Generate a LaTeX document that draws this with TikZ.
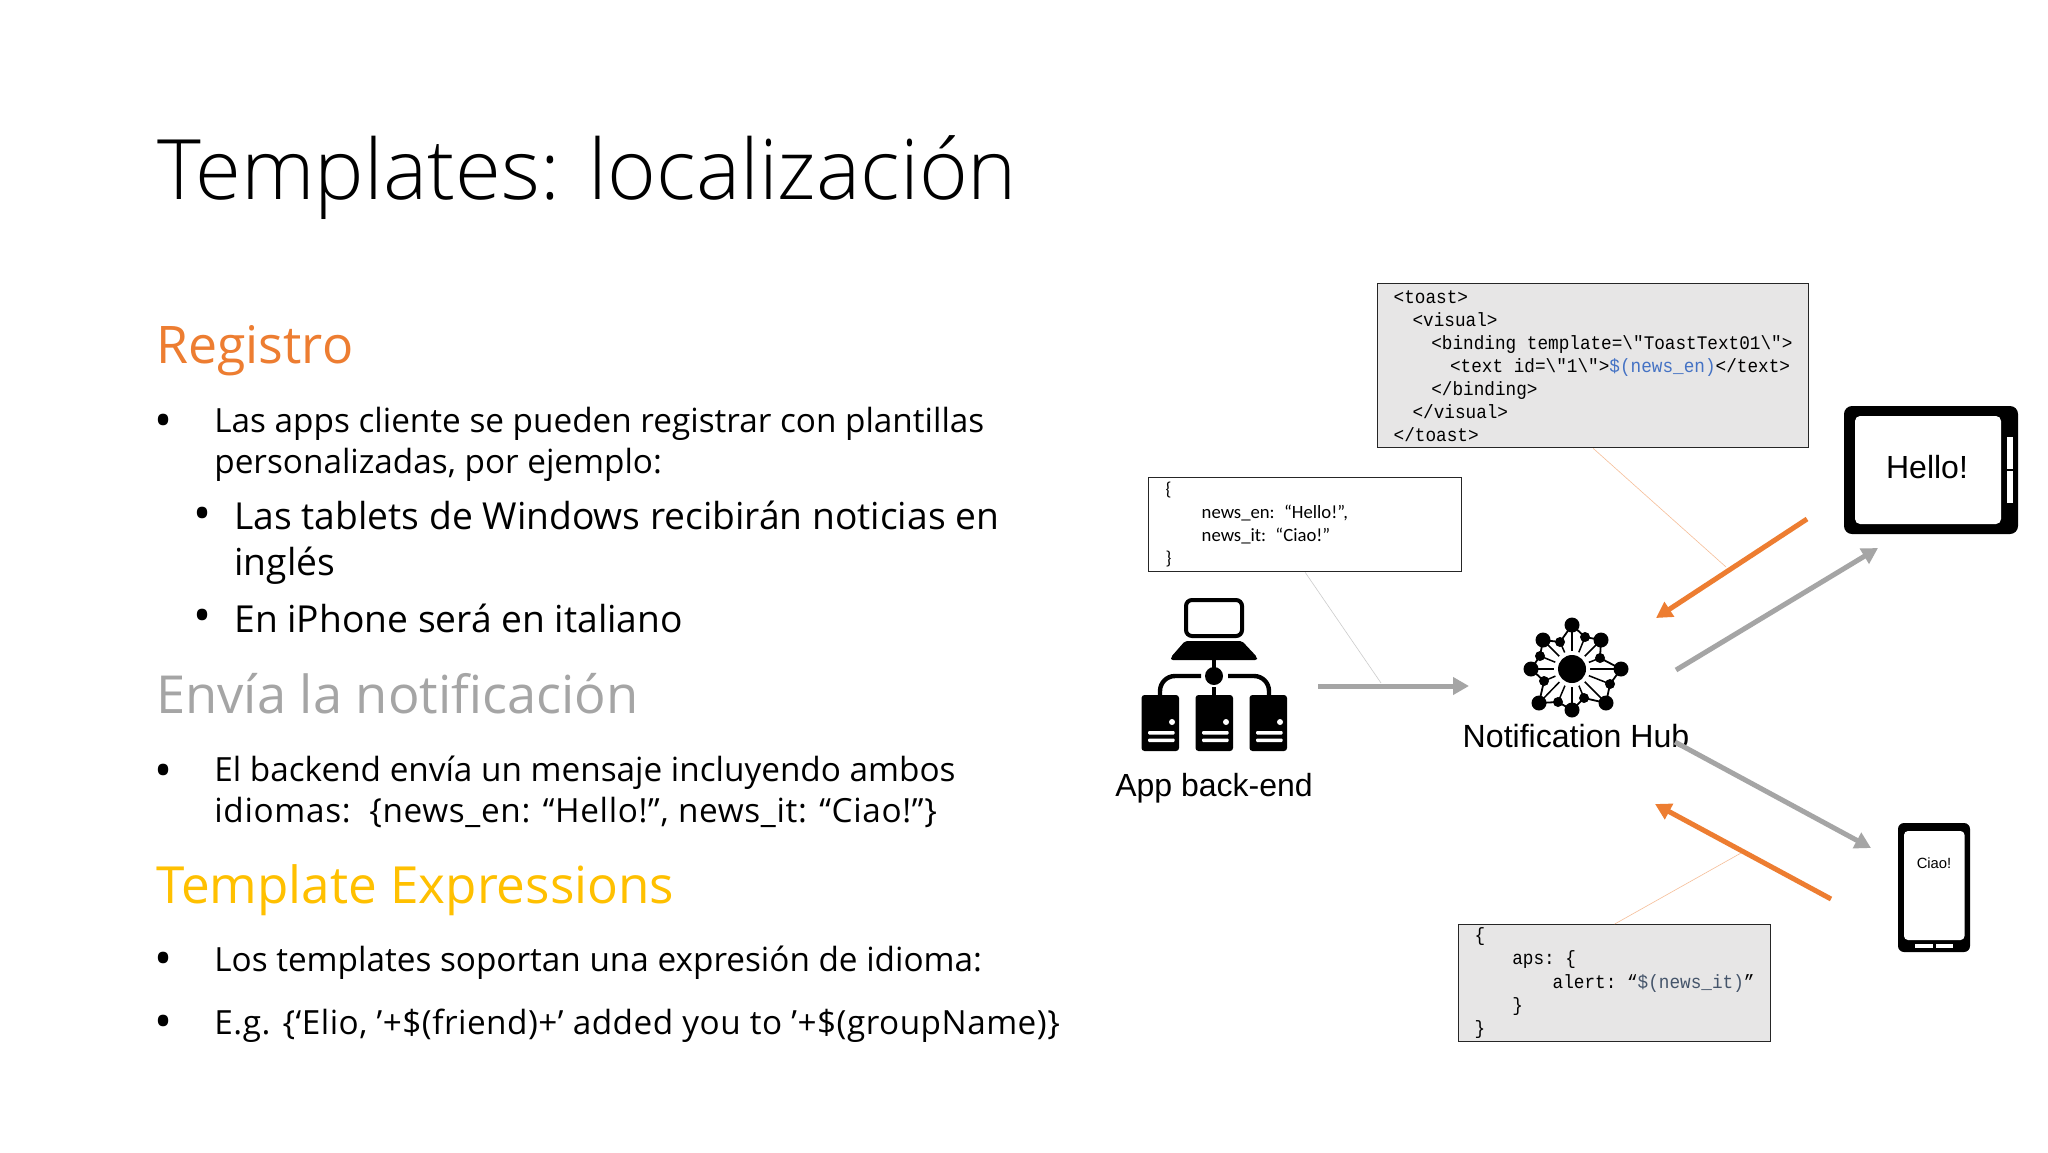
\documentclass[tikz,border=0pt]{standalone}
\usepackage{fontspec}
\usetikzlibrary{arrows.meta}
\setmainfont{Open Sans}
\setmonofont[FakeStretch=0.922]{Liberation Mono}
\newfontfamily\lightfont{Open Sans Light}
\newfontfamily\armfont{Liberation Sans}
\newfontfamily\calfont{Carlito}
\definecolor{orangeA}{HTML}{ED7D31}
\definecolor{grayA}{HTML}{A5A5A5}
\definecolor{yellowA}{HTML}{FFC000}
\definecolor{panel}{HTML}{E7E6E6}
\definecolor{blueA}{HTML}{4472C4}
\definecolor{slateA}{HTML}{44546A}
\newcommand{\fs}[1]{\fontsize{#1}{#1}\selectfont}
\newcommand{\msp}{\hspace{5.31pt}}
\tikzset{
  txt/.style={inner sep=0pt,anchor=base west,text=black},
  ttl/.style={txt,font=\lightfont\fs{41.7}},
  hd/.style={txt,font=\fs{25.9}},
  bd/.style={txt,font=\fs{16.65}},
  sb/.style={txt,font=\fs{18.6}},
  bul/.style={inner sep=0pt,anchor=center,font=\fs{24}},
  codebox/.style={draw=black!85,line width=0.7pt,inner ysep=0.5pt,align=left,anchor=north west},
  thick arrow/.style={line width=2.5pt,-{Triangle[length=8pt,width=8.5pt]}},
  grayarrow/.style={thick arrow,draw=grayA},
  orangearrow/.style={thick arrow,draw=orangeA},
  callout/.style={line width=0.3pt},
  spoke/.style={line width=0.75pt,draw=black},
  lab/.style={font=\armfont\fs{16},inner sep=0pt,anchor=base},
}
\begin{document}
\begin{tikzpicture}[x=0.5pt,y=-0.5pt]
\useasboundingbox (0,0) rectangle (2048,1152);
\fill[white] (0,0) rectangle (2048,1152);

% left text
\node[ttl] (title) at (157,199) {Templates: localización};
\node[hd,text=orangeA] (h1) at (156,363) {Registro};
\node[bul] (b1) at (164,426) {•};
\node[bd] (l1) at (214,432) {Las apps cliente se pueden registrar con plantillas};
\node[bd] (l2) at (214,473) {personalizadas, por ejemplo:};
\node[bul] (b2) at (203,519) {•};
\node[sb] (l3) at (234,529) {Las tablets de Windows recibirán noticias en};
\node[sb] (l4) at (234,575) {inglés};
\node[bul] (b3) at (203,621) {•};
\node[sb] (l5) at (234,632) {En iPhone será en italiano};
\node[hd,text=grayA,font=\fs{26.2}] (h2) at (156,713) {Envía la notificación};
\node[bul] (b4) at (164,776) {•};
\node[bd] (l6) at (214,781) {El backend envía un mensaje incluyendo ambos};
\node[bd,font=\fs{16.65}\addfontfeature{LetterSpace=2}] (l7) at (214,822) {idiomas:\ \ \{news\_en: “Hello!”, news\_it: “Ciao!”\}};
\node[hd,text=yellowA,font=\fs{25.6}] (h3) at (156,903) {Template Expressions};
\node[bul] (b5) at (164,964) {•};
\node[bd] (l8) at (214,971) {Los templates soportan una expresión de idioma:};
\node[bul] (b6) at (164,1027) {•};
\node[bd,font=\fs{16.65}\addfontfeature{LetterSpace=1.5}] (l9) at (214,1034) {E.g. \{‘Elio, ’+\$(friend)+’ added you to ’+\$(groupName)\}};

% code boxes
\node[codebox,fill=panel,text width=199.5pt,minimum height=82pt,inner xsep=8pt,font=\ttfamily\fontsize{9.6}{11.5}\selectfont] (toast) at (1377,283)
{<toast>\\
\hspace*{9.4pt}<visual>\\
\hspace*{18.8pt}\mbox{<binding\msp template=\textbackslash"ToastText01\textbackslash">}\\
\hspace*{28.2pt}\mbox{<text\msp id=\textbackslash"1\textbackslash">\textcolor{blueA}{\$(news\_en)}</text>}\\
\hspace*{18.8pt}</binding>\\
\hspace*{9.4pt}</visual>\\
</toast>};

\node[codebox,fill=white,text width=139.5pt,minimum height=47pt,inner xsep=8.5pt,inner ysep=1pt,font=\calfont\fontsize{9.35}{11.5}\selectfont] (payload) at (1148,477)
{\{\\
\hspace*{18pt}news\_en: “Hello!”,\\
\hspace*{18pt}news\_it: “Ciao!”\\
\}};

\node[codebox,fill=panel,text width=140pt,minimum height=58.5pt,inner xsep=8pt,inner ysep=0.5pt,font=\ttfamily\fontsize{9.6}{11.6}\selectfont] (aps) at (1458,924)
{\{\\
\hspace*{18.8pt}aps:\msp\{\\
\hspace*{39pt}alert:\msp“\textcolor{slateA}{\$(news\_it)}”\\
\hspace*{18.8pt}\}\\
\}};

% App back-end icon
\draw[line width=2pt,rounded corners=3pt] (1186,600) rectangle (1242,636);
\fill[rounded corners=1pt] (1185,641) -- (1242,641) -- (1257,657) -- (1257,660) -- (1171,660) -- (1171,657) -- cycle;
\draw[line width=2.2pt] (1214,660) -- (1214,670);
\fill (1214,676) circle (9);
\draw[line width=2.2pt] (1201,676) -- (1175,676) arc[start angle=270,end angle=180,radius=15] -- (1160,696);
\draw[line width=2.2pt] (1228,676) -- (1254,676) arc[start angle=270,end angle=360,radius=15] -- (1269,696);
\draw[line width=2.2pt] (1214,687) -- (1214,696);
\foreach \sx in {1141.5,1195.5,1249.5}{
  \fill[rounded corners=1.5pt] (\sx,695) rectangle ++(37.5,56);
  \fill[white] (\sx+30.5,722) circle (3);
  \fill[white,rounded corners=0.5pt] (\sx+6.5,731) rectangle ++(26.5,3.5);
  \fill[white,rounded corners=0.5pt] (\sx+6.5,738.5) rectangle ++(26.5,3.5);
}
\node[lab] (backendlabel) at (1214,796) {App back-end};

% Notification Hub icon
\coordinate (hc) at (1572,669);
\foreach \x/\y in {1572/625,1601/640,1621/669,1606/703,1572/710,1539/703,1531/669,1543/640,1585/637,1600/658,1610/684,1584/698,1558/702,1544/681,1540/656,1560/642}{
  \draw[spoke] (hc) -- (\x,\y);
}
\draw[line width=0.9pt,line join=round] (1572,625) -- (1585,637) -- (1601,640) -- (1600,658) -- (1621,669) -- (1610,684) -- (1606,703) -- (1584,698) -- (1572,710) -- (1558,702) -- (1539,703) -- (1544,681) -- (1531,669) -- (1540,656) -- (1543,640) -- (1560,642) -- cycle;
\fill[white] (hc) circle (18);
\fill (hc) circle (14);
\foreach \x/\y in {1572/625,1601/640,1621/669,1606/703,1572/710,1539/703,1531/669,1543/640}{
  \fill (\x,\y) circle (7.5);
}
\foreach \x/\y in {1585/637,1600/658,1610/684,1584/698,1558/702,1544/681,1540/656,1560/642}{
  \fill (\x,\y) circle (5);
}
\node[lab,font=\armfont\fs{16.05}] (hublabel) at (1576,747) {Notification Hub};

% tablet
\fill[rounded corners=4pt] (1844,406) rectangle (2018,534);
\fill[white,rounded corners=2.5pt] (1855,416) rectangle (2001,524);
\fill[white] (2007,437) rectangle (2013,469);
\fill[white] (2007,471) rectangle (2013,503);
\node[lab,font=\armfont\fs{16}] (hello) at (1927,478) {Hello!};

% phone
\fill[rounded corners=3pt] (1898,823) rectangle (1970,952);
\fill[white,rounded corners=2pt] (1904,831) rectangle (1964.5,940);
\fill[white] (1915,944) rectangle (1933,948);
\fill[white] (1935.5,944) rectangle (1953,948);
\node[lab,font=\armfont\fs{7.4}] (ciao) at (1934,868) {Ciao!};

% connectors
\coordinate (a1s) at (1318,686); \coordinate (a1e) at (1469,686);
\coordinate (a2s) at (1807,519); \coordinate (a2e) at (1656,618);
\coordinate (a3s) at (1676,670); \coordinate (a3e) at (1878,548);
\coordinate (a4s) at (1675,742); \coordinate (a4e) at (1871,848);
\coordinate (a5s) at (1831,899); \coordinate (a5e) at (1655,804);
\coordinate (c1e) at (1381,683);
\coordinate (c2e) at (1726,567);
\coordinate (c3e) at (1741,853);
\draw[grayarrow] (a1s) -- (a1e);
\draw[orangearrow] (a2s) -- (a2e);
\draw[grayarrow] (a3s) -- (a3e);
\draw[grayarrow] (a4s) -- (a4e);
\draw[orangearrow] (a5s) -- (a5e);
\draw[callout,draw=black!20] (payload.south) -- (c1e);
\draw[callout,draw=orangeA!50] (toast.south) -- (c2e);
\draw[callout,draw=orangeA!50] (aps.north) -- (c3e);
\end{tikzpicture}
\end{document}
